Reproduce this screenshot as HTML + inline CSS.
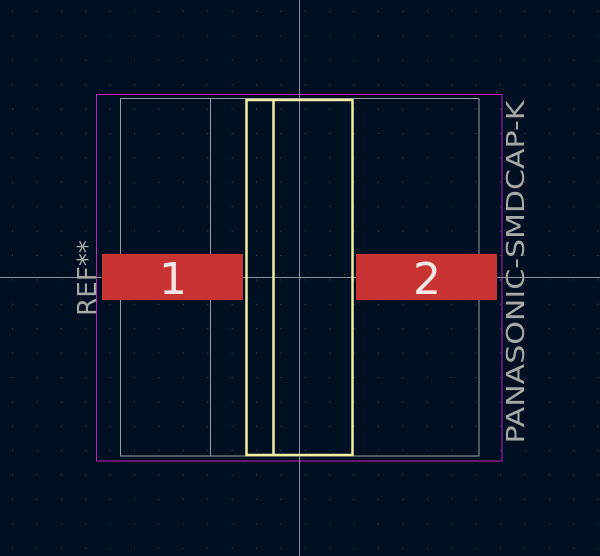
<!DOCTYPE html>
<html><head><meta charset="utf-8"><style>
html,body{margin:0;padding:0;background:#001023;}
svg{display:block;}
</style></head><body>
<svg width="600" height="556" viewBox="0 0 600 556" xmlns="http://www.w3.org/2000/svg">
<defs><pattern id="g" x="12" y="11" width="24.4" height="24.4" patternUnits="userSpaceOnUse"><rect x="0" y="0" width="1" height="1" fill="#3a4a60"/></pattern></defs>
<rect width="600" height="556" fill="#001023"/>
<rect width="600" height="556" fill="url(#g)"/>
<rect x="96.5" y="94.5" width="405.5" height="366.5" fill="none" stroke="#c21fb5" stroke-width="1"/>
<g stroke="#9a9ca0" stroke-width="1" fill="none">
<rect x="120.5" y="98.5" width="358.5" height="357.5"/>
<line x1="210.5" y1="98.5" x2="210.5" y2="456"/>
</g>
<line x1="0" y1="277.5" x2="600" y2="277.5" stroke="#8a9099" stroke-width="1"/>
<line x1="299.5" y1="0" x2="299.5" y2="556" stroke="#8a9099" stroke-width="1"/>
<g stroke="#f2eda1" stroke-width="2.5" fill="none">
<rect x="246.5" y="100" width="106" height="355"/>
<line x1="273.5" y1="100" x2="273.5" y2="455"/>
</g>
<rect x="102" y="254" width="141" height="46" fill="#c83434"/>
<rect x="356" y="254" width="141" height="46" fill="#c83434"/>
<text x="173" y="294" font-family="DejaVu Sans, sans-serif" font-size="44" fill="#f5e6e6" text-anchor="middle">1</text>
<text x="427" y="294" font-family="DejaVu Sans, sans-serif" font-size="44" fill="#f5e6e6" text-anchor="middle">2</text>
<text transform="translate(96,278) rotate(-90)" font-family="DejaVu Sans, sans-serif" font-size="26" fill="#a8a8a8" text-anchor="middle" textLength="76" lengthAdjust="spacingAndGlyphs">REF**</text>
<text transform="translate(524,272) rotate(-90)" font-family="DejaVu Sans, sans-serif" font-size="25" fill="#a8a8a8" text-anchor="middle" textLength="343" lengthAdjust="spacingAndGlyphs">PANASONIC-SMDCAP-K</text>
</svg>
</body></html>
